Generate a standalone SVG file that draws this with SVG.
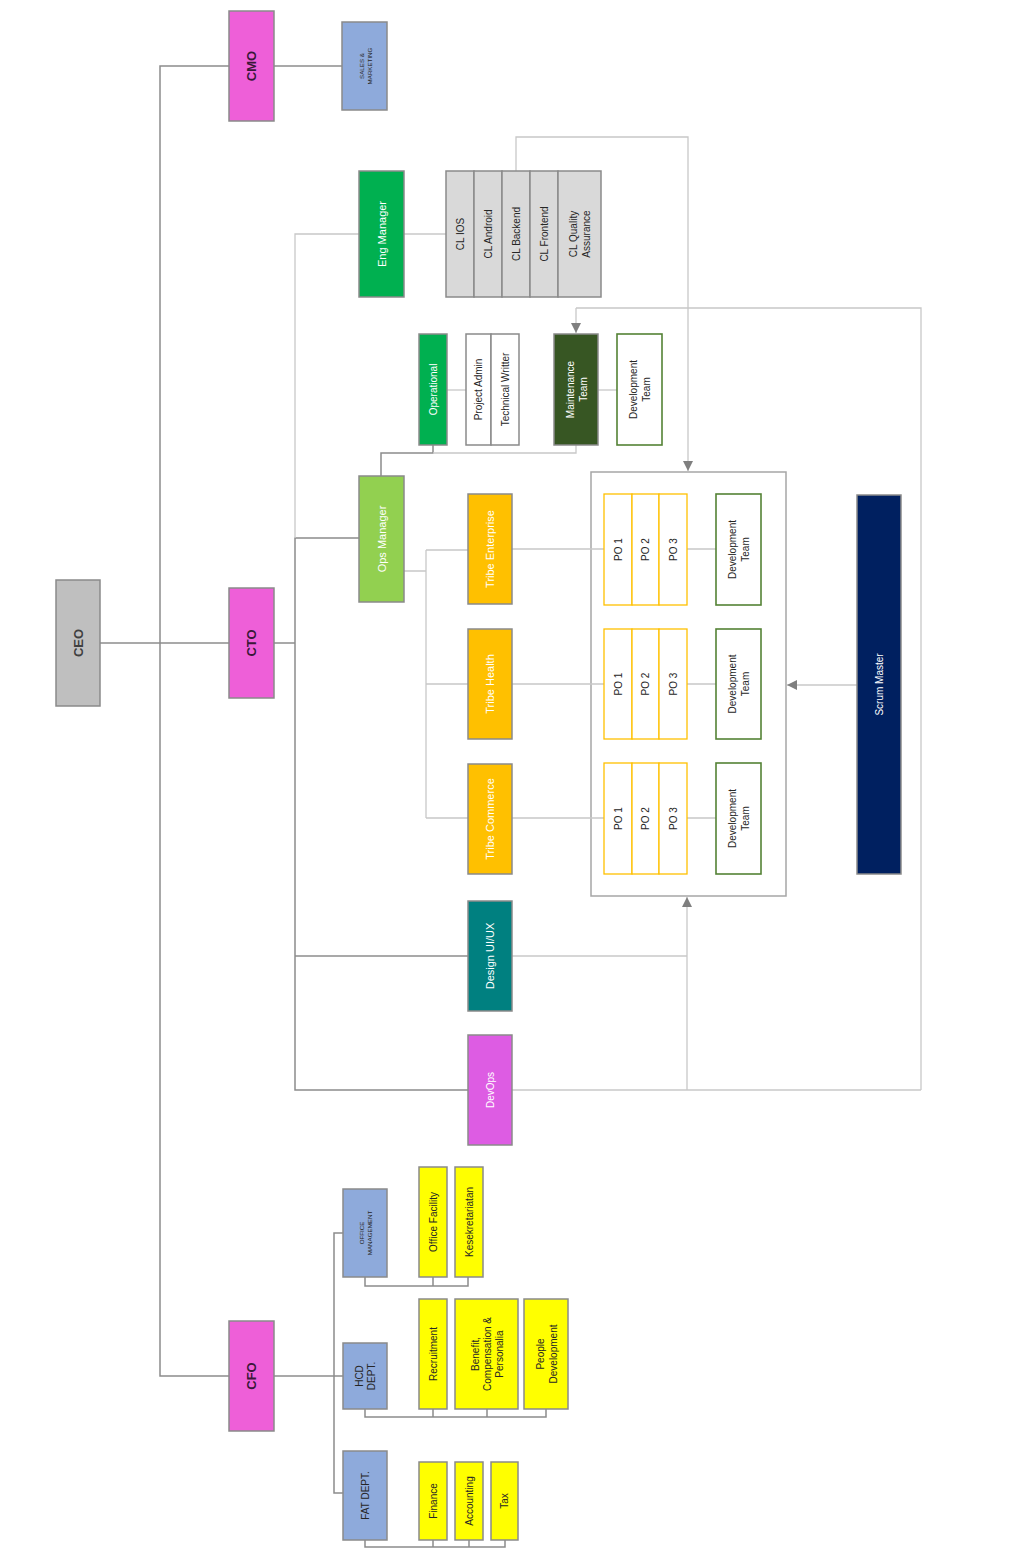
<svg xmlns="http://www.w3.org/2000/svg" width="1017" height="1550" viewBox="0 0 1017 1550">
<style>
.n{stroke:#8a8a8a;stroke-width:1.5}
.t{font-family:"Liberation Sans",Arial,sans-serif;text-anchor:middle;dominant-baseline:central;font-size:10px;fill:#262626}
.w{fill:#ffffff}
.b{font-weight:bold;font-size:13px}
.s{font-size:6.2px}
.c{fill:none;stroke:#8c8c8c;stroke-width:1.5}
.l{fill:none;stroke:#c8c8c8;stroke-width:1.3}
.po{fill:#ffffff;stroke:#ffc000;stroke-width:1.3}
.dv{fill:#ffffff;stroke:#548235;stroke-width:1.6}
</style>
<defs>
<marker id="ar" viewBox="0 0 10 10" refX="10" refY="5" markerWidth="10" markerHeight="10" markerUnits="userSpaceOnUse" orient="auto"><path d="M0,0 L10,5 L0,10z" fill="#7f7f7f"/></marker>
</defs>
<rect width="1017" height="1550" fill="#ffffff"/>
<g id="squad-container"><rect x="591" y="472" width="195" height="424" fill="#ffffff" stroke="#a6a6a6" stroke-width="1.5"/></g>
<g id="connectors">
<path class="c" d="M229,66 H160 V1376 H229"/>
<path class="c" d="M274,66 H342"/>
<path class="c" d="M100,643 H229"/>
<path class="c" d="M274,643 H295"/>
<path class="c" d="M359,538 H295 V1090 H468"/>
<path class="c" d="M295,956 H468"/>
<path class="c" d="M274,1376 H343"/>
<path class="c" d="M343,1233 H334 V1493 H343"/>
<path class="c" d="M381,476 V453 H433 V445"/>
<path class="c" d="M365,1277 V1286 H468 V1277 M433,1277 V1286"/>
<path class="c" d="M365,1409 V1417 H546 V1409 M433,1409 V1417 M487,1409 V1417"/>
<path class="c" d="M365,1540 V1547 H505 V1540 M433,1540 V1547 M469,1540 V1547"/>
<path class="l" d="M404,234 H446"/>
<path class="l" d="M359,234 H295 V538"/>
<path class="l" d="M447,390 H466"/>
<path class="l" d="M598,390 H617"/>
<path class="l" d="M433,453 H576 V445"/>
<path class="l" d="M516,171 V137 H688 V471" marker-end="url(#ar)"/>
<path class="l" d="M576,308 H921 V1090"/>
<path class="l" d="M576,308 V333" marker-end="url(#ar)"/>
<path class="l" d="M404,571 H426 M426,550 V818 M426,550 H468 M426,684 H468 M426,818 H468"/>
<path class="l" d="M512,549 H604 M687,549 H716"/>
<path class="l" d="M512,684 H604 M687,684 H716"/>
<path class="l" d="M512,818 H604 M687,818 H716"/>
<path class="l" d="M857,685 H787" marker-end="url(#ar)"/>
<path class="l" d="M512,956 H687"/>
<path class="l" d="M512,1090 H921"/>
<path class="l" d="M687,1090 V897" marker-end="url(#ar)"/>
</g>
<g id="ceo"><rect class="n" x="56" y="580" width="44" height="126" fill="#bfbfbf"/><text class="t b" transform="translate(78,643) rotate(-90)" style="fill:#404040">CEO</text></g>
<g id="cmo"><rect class="n" x="229" y="11" width="45" height="110" fill="#ee5fd8"/><text class="t b" transform="translate(251.5,66) rotate(-90)" style="fill:#3a1838">CMO</text></g>
<g id="cto"><rect class="n" x="229" y="588" width="45" height="110" fill="#ee5fd8"/><text class="t b" transform="translate(251.5,643) rotate(-90)" style="fill:#3a1838">CTO</text></g>
<g id="cfo"><rect class="n" x="229" y="1321" width="45" height="110" fill="#ee5fd8"/><text class="t b" transform="translate(251.5,1376) rotate(-90)" style="fill:#3a1838">CFO</text></g>
<g id="sales"><rect class="n" x="342" y="22" width="45" height="88" fill="#8eaadb"/><text class="t s" transform="translate(364.5,66) rotate(-90)"><tspan x="0" y="-4">SALES &amp;</tspan><tspan x="0" y="4">MARKETING</tspan></text></g>
<g id="eng-manager"><rect class="n" x="359" y="171" width="45" height="126" fill="#00b050"/><text class="t w" transform="translate(381.5,234) rotate(-90)" style="font-size:11px">Eng Manager</text></g>
<g id="cl-group">
<rect class="n" x="446" y="171" width="28" height="126" fill="#d9d9d9"/>
<rect class="n" x="474" y="171" width="28" height="126" fill="#d9d9d9"/>
<rect class="n" x="502" y="171" width="28" height="126" fill="#d9d9d9"/>
<rect class="n" x="530" y="171" width="28" height="126" fill="#d9d9d9"/>
<rect class="n" x="558" y="171" width="43" height="126" fill="#d9d9d9"/>
<text class="t" transform="translate(460,234) rotate(-90)">CL IOS</text>
<text class="t" transform="translate(488,234) rotate(-90)">CL Android</text>
<text class="t" transform="translate(516,234) rotate(-90)">CL Backend</text>
<text class="t" transform="translate(544,234) rotate(-90)">CL Frontend</text>
<text class="t" transform="translate(579.5,234) rotate(-90)"><tspan x="0" y="-6.5">CL Quality</tspan><tspan x="0" y="6.5">Assurance</tspan></text>
</g>
<g id="operational"><rect class="n" x="419" y="334" width="28" height="111" fill="#00b050"/><text class="t w" transform="translate(433,389.5) rotate(-90)">Operational</text></g>
<g id="project-admin"><rect class="n" x="466" y="334" width="25" height="111" fill="#ffffff"/><text class="t" transform="translate(478.5,389.5) rotate(-90)">Project Admin</text></g>
<g id="technical-writter"><rect class="n" x="491" y="334" width="28" height="111" fill="#ffffff"/><text class="t" transform="translate(505,389.5) rotate(-90)">Technical Writter</text></g>
<g id="maintenance-team"><rect class="n" x="554" y="334" width="44" height="111" fill="#375623"/><text class="t w" transform="translate(576,389.5) rotate(-90)"><tspan x="0" y="-6.5">Maintenance</tspan><tspan x="0" y="6.5">Team</tspan></text></g>
<g id="dev-team-top"><rect class="dv" x="617" y="334" width="45" height="111"/><text class="t" transform="translate(639.5,389.5) rotate(-90)"><tspan x="0" y="-6.5">Development</tspan><tspan x="0" y="6.5">Team</tspan></text></g>
<g id="ops-manager"><rect class="n" x="359" y="476" width="45" height="126" fill="#92d050"/><text class="t w" transform="translate(381.5,539) rotate(-90)" style="font-size:11px">Ops Manager</text></g>
<g id="tribe-enterprise"><rect class="n" x="468" y="494" width="44" height="110" fill="#ffc000"/><text class="t w" transform="translate(490,549) rotate(-90)" style="font-size:11px">Tribe Enterprise</text></g>
<g id="tribe-health"><rect class="n" x="468" y="629" width="44" height="110" fill="#ffc000"/><text class="t w" transform="translate(490,684) rotate(-90)" style="font-size:11px">Tribe Health</text></g>
<g id="tribe-commerce"><rect class="n" x="468" y="764" width="44" height="110" fill="#ffc000"/><text class="t w" transform="translate(490,819) rotate(-90)" style="font-size:11px">Tribe Commerce</text></g>
<g id="po-group-1">
<rect class="po" x="604" y="494" width="28" height="111"/><rect class="po" x="632" y="494" width="27" height="111"/><rect class="po" x="659" y="494" width="28" height="111"/>
<text class="t" transform="translate(618,549.5) rotate(-90)">PO 1</text><text class="t" transform="translate(645.5,549.5) rotate(-90)">PO 2</text><text class="t" transform="translate(673,549.5) rotate(-90)">PO 3</text>
</g>
<g id="po-group-2">
<rect class="po" x="604" y="629" width="28" height="110"/><rect class="po" x="632" y="629" width="27" height="110"/><rect class="po" x="659" y="629" width="28" height="110"/>
<text class="t" transform="translate(618,684) rotate(-90)">PO 1</text><text class="t" transform="translate(645.5,684) rotate(-90)">PO 2</text><text class="t" transform="translate(673,684) rotate(-90)">PO 3</text>
</g>
<g id="po-group-3">
<rect class="po" x="604" y="763" width="28" height="111"/><rect class="po" x="632" y="763" width="27" height="111"/><rect class="po" x="659" y="763" width="28" height="111"/>
<text class="t" transform="translate(618,818.5) rotate(-90)">PO 1</text><text class="t" transform="translate(645.5,818.5) rotate(-90)">PO 2</text><text class="t" transform="translate(673,818.5) rotate(-90)">PO 3</text>
</g>
<g id="dev-team-1"><rect class="dv" x="716" y="494" width="45" height="111"/><text class="t" transform="translate(738.5,549.5) rotate(-90)"><tspan x="0" y="-6.5">Development</tspan><tspan x="0" y="6.5">Team</tspan></text></g>
<g id="dev-team-2"><rect class="dv" x="716" y="629" width="45" height="110"/><text class="t" transform="translate(738.5,684) rotate(-90)"><tspan x="0" y="-6.5">Development</tspan><tspan x="0" y="6.5">Team</tspan></text></g>
<g id="dev-team-3"><rect class="dv" x="716" y="763" width="45" height="111"/><text class="t" transform="translate(738.5,818.5) rotate(-90)"><tspan x="0" y="-6.5">Development</tspan><tspan x="0" y="6.5">Team</tspan></text></g>
<g id="scrum-master"><rect class="n" x="857" y="495" width="44" height="379" fill="#002060"/><text class="t w" transform="translate(879,684.5) rotate(-90)">Scrum Master</text></g>
<g id="design-uiux"><rect class="n" x="468" y="901" width="44" height="110" fill="#008080"/><text class="t w" transform="translate(490,956) rotate(-90)" style="font-size:11px">Design UI/UX</text></g>
<g id="devops"><rect class="n" x="468" y="1035" width="44" height="110" fill="#dd5ce3"/><text class="t w" transform="translate(490,1090) rotate(-90)">DevOps</text></g>
<g id="office-management"><rect class="n" x="343" y="1189" width="44" height="88" fill="#8eaadb"/><text class="t s" transform="translate(365,1233) rotate(-90)"><tspan x="0" y="-4">OFFICE</tspan><tspan x="0" y="4">MANAGEMENT</tspan></text></g>
<g id="hcd-dept"><rect class="n" x="343" y="1343" width="44" height="66" fill="#8eaadb"/><text class="t" transform="translate(365,1376) rotate(-90)"><tspan x="0" y="-6">HCD</tspan><tspan x="0" y="6">DEPT.</tspan></text></g>
<g id="fat-dept"><rect class="n" x="343" y="1451" width="44" height="89" fill="#8eaadb"/><text class="t" transform="translate(365,1495.5) rotate(-90)">FAT DEPT.</text></g>
<g id="office-facility"><rect class="n" x="419" y="1167" width="28" height="110" fill="#ffff00"/><text class="t" transform="translate(433,1222) rotate(-90)">Office Facility</text></g>
<g id="kesekretariatan"><rect class="n" x="455" y="1167" width="28" height="110" fill="#ffff00"/><text class="t" transform="translate(469,1222) rotate(-90)">Kesekretariatan</text></g>
<g id="recruitment"><rect class="n" x="419" y="1299" width="28" height="110" fill="#ffff00"/><text class="t" transform="translate(433,1354) rotate(-90)">Recruitment</text></g>
<g id="benefit"><rect class="n" x="455" y="1299" width="63" height="110" fill="#ffff00"/><text class="t" transform="translate(486.5,1354) rotate(-90)"><tspan x="0" y="-12">Benefit,</tspan><tspan x="0" y="0">Compensation &amp;</tspan><tspan x="0" y="12">Personalia</tspan></text></g>
<g id="people-development"><rect class="n" x="524" y="1299" width="44" height="110" fill="#ffff00"/><text class="t" transform="translate(546,1354) rotate(-90)"><tspan x="0" y="-6.5">People</tspan><tspan x="0" y="6.5">Development</tspan></text></g>
<g id="finance"><rect class="n" x="419" y="1462" width="28" height="78" fill="#ffff00"/><text class="t" transform="translate(433,1501) rotate(-90)">Finance</text></g>
<g id="accounting"><rect class="n" x="455" y="1462" width="28" height="78" fill="#ffff00"/><text class="t" transform="translate(469,1501) rotate(-90)">Accounting</text></g>
<g id="tax"><rect class="n" x="491" y="1462" width="27" height="78" fill="#ffff00"/><text class="t" transform="translate(504.5,1501) rotate(-90)">Tax</text></g>
</svg>
